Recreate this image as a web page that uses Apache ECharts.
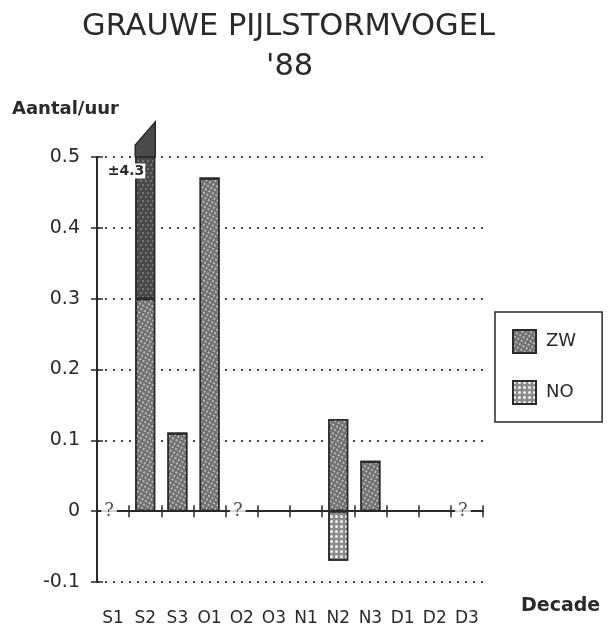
<!DOCTYPE html>
<html>
<head>
<meta charset="utf-8">
<script src="https://cdn.jsdelivr.net/npm/echarts@6/dist/echarts.min.js"></script>
<style>
  html, body { margin: 0; padding: 0; background: #fff; }
  #chart { width: 611px; height: 640px; }
</style>
</head>
<body>
<div id="chart"></div>
<script>
// Decades (S = september, O = oktober, N = november, D = december)
const decades = ['S1', 'S2', 'S3', 'O1', 'O2', 'O3', 'N1', 'N2', 'N3', 'D1', 'D2', 'D3'];
// Birds per hour, south-west (ZW) and north-east (NO) passage
const zwValues = [null, 0.3, 0.11, 0.47, null, 0, 0, 0.13, 0.07, 0, 0, null];
const noValues = [null, 4.0, 0, 0, null, 0, 0, -0.07, 0, 0, 0, null];
// Decades without counts
const missingDecades = ['S1', 'O2', 'D3'];
// Value axis range
const yMin = -0.1;
const yMax = 0.5;
const yStep = 0.1;

const INK = '#2a2a2a';
const BAR_W = 20;

const zwStyle = {
  color: '#707070', borderColor: INK, borderWidth: 1.5,
  decal: { symbol: 'circle', symbolSize: 0.9, color: '#dedede',
           dashArrayX: [2, 1.2], dashArrayY: [2, 1.2] }
};
const noStyle = {
  color: '#8c8c8c', borderColor: INK, borderWidth: 1.5,
  decal: { symbol: 'circle', symbolSize: 1, color: '#f2f2f2',
           dashArrayX: [2.6, 1.6], dashArrayY: [2.6, 1.6] }
};
const noHeavyStyle = {
  color: '#4a4a4a', borderColor: INK, borderWidth: 1.5,
  decal: { symbol: 'circle', symbolSize: 0.8, color: '#a8a8a8',
           dashArrayX: [[1.5, 2.5], [0, 2, 1.5, 0.5]], dashArrayY: [1.5, 1.5] }
};

const noData = noValues.map((v, i) => {
  const total = (zwValues[i] || 0) + (v || 0);
  return total > yMax ? { value: v, itemStyle: noHeavyStyle } : v;
});

const chart = echarts.init(document.getElementById('chart'), null, { renderer: 'canvas' });

chart.setOption({
  animation: false,
  backgroundColor: '#fff',
  aria: { enabled: true, decal: { show: true } },
  title: [
    {
      text: 'GRAUWE PIJLSTORMVOGEL', left: 82, top: 9, padding: 0,
      textStyle: { fontFamily: 'DejaVu Sans', fontSize: 30.5, fontWeight: 'normal',
                   color: INK, lineHeight: 36 }
    },
    {
      text: '\'88', left: 266, top: 49, padding: 0,
      textStyle: { fontFamily: 'DejaVu Sans', fontSize: 30.5, fontWeight: 'normal',
                   color: INK, lineHeight: 36 }
    },
    {
      text: 'Aantal/uur', left: 7, top: 94,
      textStyle: { fontFamily: 'DejaVu Sans', fontSize: 18, fontWeight: 'bold',
                   color: INK, lineHeight: 20 }
    },
    {
      text: 'Decade', left: 516, top: 591,
      textStyle: { fontFamily: 'DejaVu Sans', fontSize: 19, fontWeight: 'bold',
                   color: INK, lineHeight: 20 }
    }
  ],
  legend: {
    data: ['ZW', 'NO'],
    orient: 'vertical',
    left: 495, top: 312,
    padding: [17, 26, 17, 17],
    itemWidth: 23, itemHeight: 23, itemGap: 26,
    icon: 'rect',
    borderColor: INK, borderWidth: 1.5,
    selectedMode: false,
    textStyle: { fontFamily: 'DejaVu Sans', fontSize: 18, color: INK, padding: [0, 0, 0, 5] }
  },
  grid: { left: 97, right: 128, top: 157, bottom: 58, containLabel: false, outerBoundsMode: 'none' },
  xAxis: [
    {
      type: 'category', data: decades, position: 'bottom', z: 3,
      axisLine: { onZero: true, lineStyle: { color: INK, width: 2 } },
      axisTick: { show: true, length: 6, lineStyle: { color: INK, width: 1.5 } },
      axisLabel: { margin: 28, fontFamily: 'DejaVu Sans', fontSize: 17, color: INK },
      splitLine: { show: false }
    },
    {
      type: 'category', data: decades, position: 'bottom', z: 3,
      axisLine: { show: false, onZero: true },
      axisTick: { show: true, inside: true, length: 6, lineStyle: { color: INK, width: 1.5 } },
      axisLabel: { show: false },
      splitLine: { show: false }
    }
  ],
  yAxis: [
    {
      type: 'value', min: yMin, max: yMax, interval: yStep,
      axisLine: { show: true, lineStyle: { color: INK, width: 2 } },
      axisTick: { show: true, length: 6, lineStyle: { color: INK, width: 1.5 } },
      axisLabel: { margin: 17, fontFamily: 'DejaVu Sans', fontSize: 19, color: INK,
                   formatter: v => String(Math.round(v * 10) / 10) },
      splitLine: { show: true, lineStyle: { color: '#444', width: 2, type: [2, 6] } }
    },
    {
      type: 'value', min: yMin, max: yMax, interval: yStep, position: 'left',
      axisLine: { show: false },
      axisTick: { show: true, inside: true, length: 6, lineStyle: { color: INK, width: 1.5 } },
      axisLabel: { show: false },
      splitLine: { show: false }
    }
  ],
  series: [
    {
      name: 'ZW', type: 'bar', stack: 'decade', barWidth: BAR_W,
      data: zwValues, itemStyle: zwStyle
    },
    {
      name: 'NO', type: 'bar', stack: 'decade', barWidth: BAR_W,
      data: noData, itemStyle: noStyle
    },
    {
      // Bars running off the top of the scale: broken cap plus the real total
      name: 'afgebroken', type: 'custom', z: 4,
      data: decades.map((d, i) => [i, (zwValues[i] || 0) + (noValues[i] || 0)]),
      renderItem: (params, api) => {
        const total = api.value(1);
        if (!(total > yMax)) return null;
        const top = api.coord([api.value(0), yMax]);
        const x = top[0], y = top[1], h = BAR_W / 2;
        return {
          type: 'group',
          children: [
            {
              type: 'polygon',
              shape: { points: [[x - h, y], [x - h, y - 12], [x + h, y - 35], [x + h, y]] },
              style: { fill: '#4a4a4a', stroke: INK, lineWidth: 1.5 }
            },
            {
              type: 'text',
              style: {
                text: '\u00b1' + total.toFixed(1), x: x, y: y + 14,
                align: 'right', verticalAlign: 'middle',
                font: 'bold 14px "DejaVu Sans"', fill: INK,
                backgroundColor: '#fff', padding: [1, 1, 0, 1]
              }
            }
          ]
        };
      }
    },
    {
      name: 'onbekend', type: 'scatter', z: 6, symbolSize: 0,
      data: missingDecades.map(d => [d, 0]),
      label: {
        show: true, position: 'inside', offset: [-4, 0], formatter: '?',
        fontFamily: 'DejaVu Serif', fontSize: 18, color: '#222',
        backgroundColor: '#fff', padding: [0, 3]
      }
    }
  ]
});
</script>
</body>
</html>
